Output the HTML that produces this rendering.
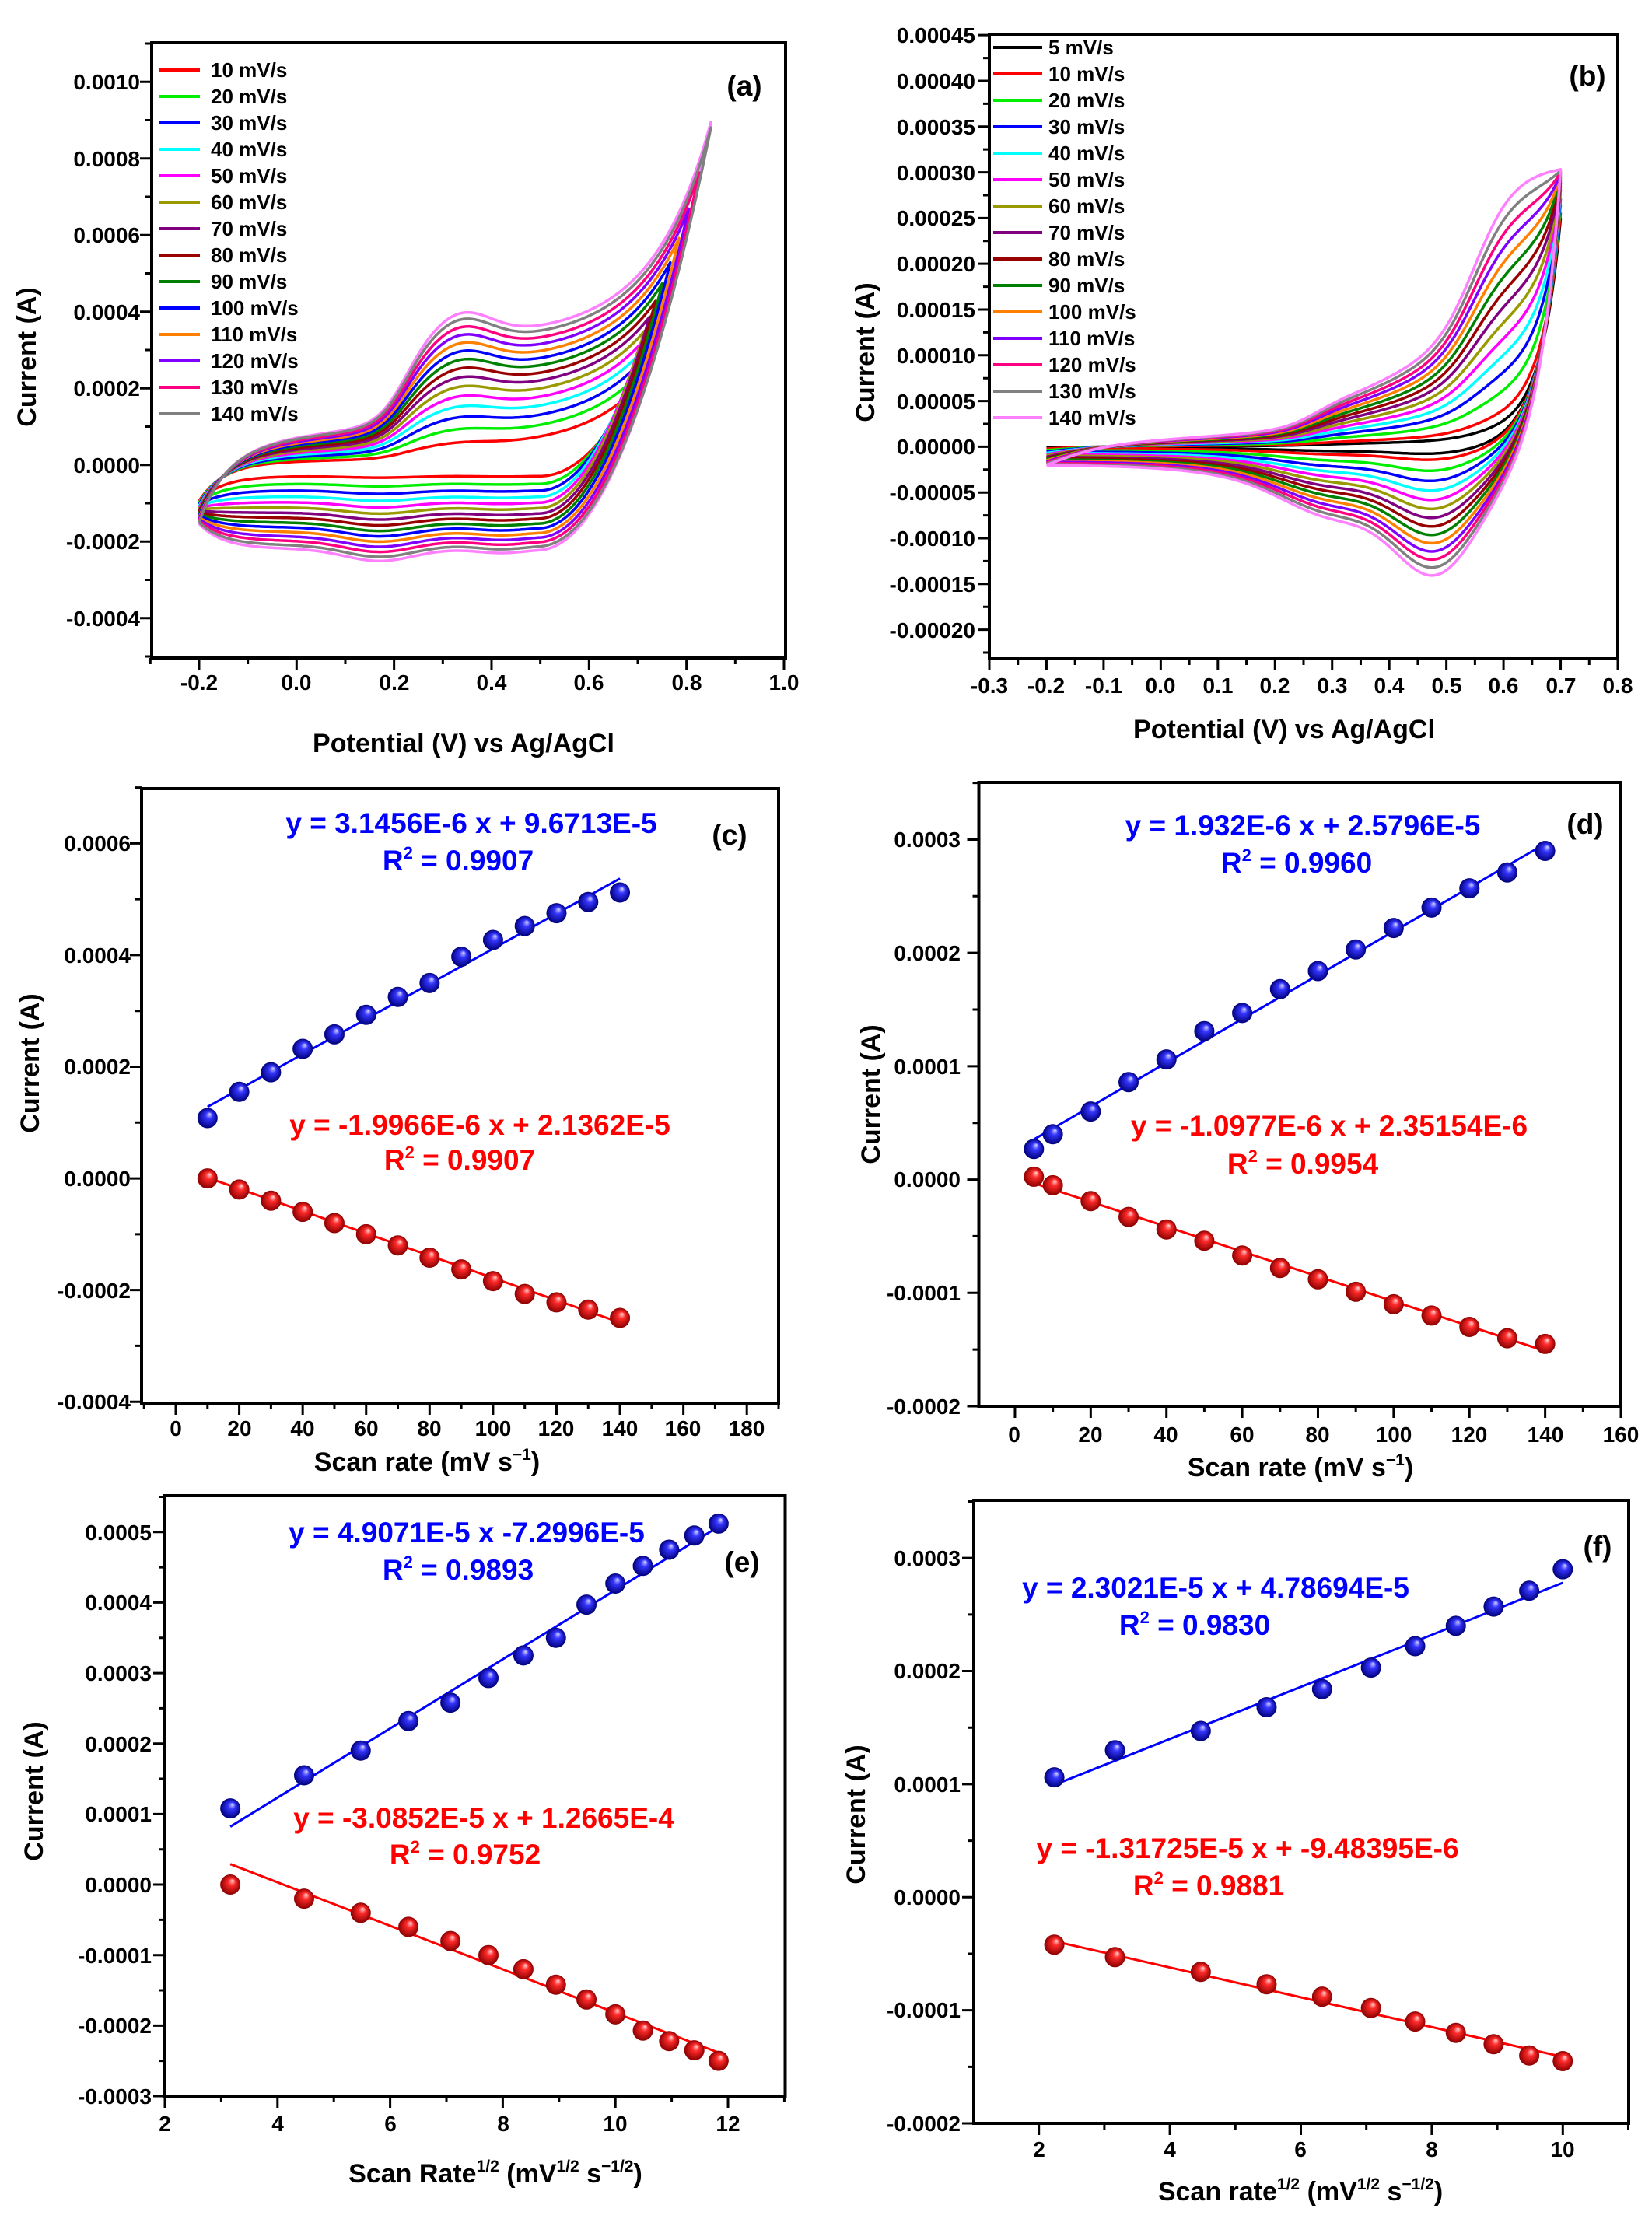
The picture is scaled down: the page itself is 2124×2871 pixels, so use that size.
<!DOCTYPE html>
<html><head><meta charset="utf-8"><style>
body{margin:0;background:#fff;}
svg{display:block;}
text{font-family:"Liberation Sans",Arial,sans-serif;font-weight:bold;}
.tk{font-size:28px;fill:#000;}
.tt{font-size:34px;fill:#000;}
.lg{font-size:26px;fill:#000;}
.eqb{font-size:37px;fill:#0000ff;}
.eqr{font-size:37px;fill:#ff0000;}
.pl{font-size:37px;fill:#000;}
</style></head><body>
<svg id="s" xmlns="http://www.w3.org/2000/svg" width="2124" height="2871" viewBox="0 0 2124 2871">
<defs>
<radialGradient id="gb" cx="0.5" cy="0.5" r="0.5" fx="0.62" fy="0.3"><stop offset="0" stop-color="#d8d8ff"/><stop offset="0.35" stop-color="#3535ff"/><stop offset="1" stop-color="#00007a"/></radialGradient>
<radialGradient id="gr" cx="0.5" cy="0.5" r="0.5" fx="0.62" fy="0.3"><stop offset="0" stop-color="#ffd8d8"/><stop offset="0.35" stop-color="#ff2a2a"/><stop offset="1" stop-color="#8a0000"/></radialGradient>
</defs>
<rect width="2124" height="2871" fill="#fff"/>
<g id="plot"></g>

<!-- Panel a text -->
<g class="tk" text-anchor="middle">
<text x="256" y="887">-0.2</text><text x="381" y="887">0.0</text><text x="507" y="887">0.2</text><text x="632" y="887">0.4</text><text x="757" y="887">0.6</text><text x="883" y="887">0.8</text><text x="1008" y="887">1.0</text>
</g>
<g class="tk" text-anchor="end">
<text x="180" y="115">0.0010</text><text x="180" y="214">0.0008</text><text x="180" y="312">0.0006</text><text x="180" y="411">0.0004</text><text x="180" y="509">0.0002</text><text x="180" y="608">0.0000</text><text x="180" y="706">-0.0002</text><text x="180" y="805">-0.0004</text>
</g>
<text class="tt" text-anchor="middle" transform="translate(46,459) rotate(-90)">Current (A)</text>
<text class="tt" text-anchor="middle" x="596" y="967">Potential (V) vs Ag/AgCl</text>
<text class="pl" x="957" y="123" text-anchor="middle">(a)</text>
<g class="lg">
<text x="271" y="99">10 mV/s</text><text x="271" y="133">20 mV/s</text><text x="271" y="167">30 mV/s</text><text x="271" y="201">40 mV/s</text><text x="271" y="235">50 mV/s</text><text x="271" y="269">60 mV/s</text><text x="271" y="303">70 mV/s</text><text x="271" y="337">80 mV/s</text><text x="271" y="371">90 mV/s</text><text x="271" y="405">100 mV/s</text><text x="271" y="439">110 mV/s</text><text x="271" y="473">120 mV/s</text><text x="271" y="507">130 mV/s</text><text x="271" y="541">140 mV/s</text>
</g>

<!-- Panel b text -->
<g class="tk" text-anchor="middle">
<text x="1272" y="891">-0.3</text><text x="1345" y="891">-0.2</text><text x="1419" y="891">-0.1</text><text x="1492" y="891">0.0</text><text x="1566" y="891">0.1</text><text x="1639" y="891">0.2</text><text x="1713" y="891">0.3</text><text x="1786" y="891">0.4</text><text x="1860" y="891">0.5</text><text x="1933" y="891">0.6</text><text x="2007" y="891">0.7</text><text x="2080" y="891">0.8</text>
</g>
<g class="tk" text-anchor="end">
<text x="1254" y="55">0.00045</text><text x="1254" y="114">0.00040</text><text x="1254" y="173">0.00035</text><text x="1254" y="232">0.00030</text><text x="1254" y="290">0.00025</text><text x="1254" y="349">0.00020</text><text x="1254" y="408">0.00015</text><text x="1254" y="467">0.00010</text><text x="1254" y="526">0.00005</text><text x="1254" y="584">0.00000</text><text x="1254" y="643">-0.00005</text><text x="1254" y="702">-0.00010</text><text x="1254" y="761">-0.00015</text><text x="1254" y="820">-0.00020</text>
</g>
<text class="tt" text-anchor="middle" transform="translate(1124,453) rotate(-90)">Current (A)</text>
<text class="tt" text-anchor="middle" x="1651" y="949">Potential (V) vs Ag/AgCl</text>
<text class="pl" x="2041" y="110" text-anchor="middle">(b)</text>
<g class="lg">
<text x="1348" y="70">5 mV/s</text><text x="1348" y="104">10 mV/s</text><text x="1348" y="138">20 mV/s</text><text x="1348" y="172">30 mV/s</text><text x="1348" y="206">40 mV/s</text><text x="1348" y="240">50 mV/s</text><text x="1348" y="274">60 mV/s</text><text x="1348" y="308">70 mV/s</text><text x="1348" y="342">80 mV/s</text><text x="1348" y="376">90 mV/s</text><text x="1348" y="410">100 mV/s</text><text x="1348" y="444">110 mV/s</text><text x="1348" y="478">120 mV/s</text><text x="1348" y="512">130 mV/s</text><text x="1348" y="546">140 mV/s</text>
</g>

<!-- Panel c text -->
<g class="tk" text-anchor="middle">
<text x="226" y="1846">0</text><text x="308" y="1846">20</text><text x="389" y="1846">40</text><text x="471" y="1846">60</text><text x="552" y="1846">80</text><text x="634" y="1846">100</text><text x="715" y="1846">120</text><text x="797" y="1846">140</text><text x="878" y="1846">160</text><text x="960" y="1846">180</text>
</g>
<g class="tk" text-anchor="end">
<text x="168" y="1094">0.0006</text><text x="168" y="1238">0.0004</text><text x="168" y="1381">0.0002</text><text x="168" y="1525">0.0000</text><text x="168" y="1669">-0.0002</text><text x="168" y="1812">-0.0004</text>
</g>
<text class="tt" text-anchor="middle" transform="translate(50,1367) rotate(-90)">Current (A)</text>
<text class="tt" text-anchor="middle" x="549" y="1891">Scan rate (mV s<tspan font-size="21" dy="-14">−1</tspan><tspan dy="14">)</tspan></text>
<text class="pl" x="938" y="1086" text-anchor="middle">(c)</text>
<text class="eqb" x="606" y="1071" text-anchor="middle">y = 3.1456E-6 x + 9.6713E-5</text>
<text class="eqb" x="589" y="1119" text-anchor="middle">R<tspan font-size="22" dy="-15">2</tspan><tspan dy="15"> = 0.9907</tspan></text>
<text class="eqr" x="617" y="1459" text-anchor="middle">y = -1.9966E-6 x + 2.1362E-5</text>
<text class="eqr" x="591" y="1504" text-anchor="middle">R<tspan font-size="22" dy="-15">2</tspan><tspan dy="15"> = 0.9907</tspan></text>

<!-- Panel d text -->
<g class="tk" text-anchor="middle">
<text x="1304" y="1854">0</text><text x="1402" y="1854">20</text><text x="1499" y="1854">40</text><text x="1597" y="1854">60</text><text x="1694" y="1854">80</text><text x="1792" y="1854">100</text><text x="1889" y="1854">120</text><text x="1987" y="1854">140</text><text x="2084" y="1854">160</text>
</g>
<g class="tk" text-anchor="end">
<text x="1235" y="1089">0.0003</text><text x="1235" y="1235">0.0002</text><text x="1235" y="1381">0.0001</text><text x="1235" y="1526">0.0000</text><text x="1235" y="1672">-0.0001</text><text x="1235" y="1818">-0.0002</text>
</g>
<text class="tt" text-anchor="middle" transform="translate(1131,1407) rotate(-90)">Current (A)</text>
<text class="tt" text-anchor="middle" x="1672" y="1898">Scan rate (mV s<tspan font-size="21" dy="-14">−1</tspan><tspan dy="14">)</tspan></text>
<text class="pl" x="2038" y="1072" text-anchor="middle">(d)</text>
<text class="eqb" x="1675" y="1074" text-anchor="middle">y = 1.932E-6 x + 2.5796E-5</text>
<text class="eqb" x="1667" y="1122" text-anchor="middle">R<tspan font-size="22" dy="-15">2</tspan><tspan dy="15"> = 0.9960</tspan></text>
<text class="eqr" x="1709" y="1460" text-anchor="middle">y = -1.0977E-6 x + 2.35154E-6</text>
<text class="eqr" x="1675" y="1509" text-anchor="middle">R<tspan font-size="22" dy="-15">2</tspan><tspan dy="15"> = 0.9954</tspan></text>

<!-- Panel e text -->
<g class="tk" text-anchor="middle">
<text x="212" y="2740">2</text><text x="357" y="2740">4</text><text x="502" y="2740">6</text><text x="647" y="2740">8</text><text x="791" y="2740">10</text><text x="936" y="2740">12</text>
</g>
<g class="tk" text-anchor="end">
<text x="195" y="1980">0.0005</text><text x="195" y="2070">0.0004</text><text x="195" y="2161">0.0003</text><text x="195" y="2252">0.0002</text><text x="195" y="2342">0.0001</text><text x="195" y="2433">0.0000</text><text x="195" y="2524">-0.0001</text><text x="195" y="2614">-0.0002</text><text x="195" y="2705">-0.0003</text>
</g>
<text class="tt" text-anchor="middle" transform="translate(55,2303) rotate(-90)">Current (A)</text>
<text class="tt" text-anchor="middle" x="637" y="2806">Scan Rate<tspan font-size="21" dy="-14">1/2</tspan><tspan dy="14"> (mV</tspan><tspan font-size="21" dy="-14">1/2</tspan><tspan dy="14"> s</tspan><tspan font-size="21" dy="-14">−1/2</tspan><tspan dy="14">)</tspan></text>
<text class="pl" x="954" y="2021" text-anchor="middle">(e)</text>
<text class="eqb" x="600" y="1983" text-anchor="middle">y = 4.9071E-5 x -7.2996E-5</text>
<text class="eqb" x="589" y="2031" text-anchor="middle">R<tspan font-size="22" dy="-15">2</tspan><tspan dy="15"> = 0.9893</tspan></text>
<text class="eqr" x="622" y="2350" text-anchor="middle">y = -3.0852E-5 x + 1.2665E-4</text>
<text class="eqr" x="598" y="2397" text-anchor="middle">R<tspan font-size="22" dy="-15">2</tspan><tspan dy="15"> = 0.9752</tspan></text>

<!-- Panel f text -->
<g class="tk" text-anchor="middle">
<text x="1336" y="2773">2</text><text x="1504" y="2773">4</text><text x="1672" y="2773">6</text><text x="1841" y="2773">8</text><text x="2009" y="2773">10</text>
</g>
<g class="tk" text-anchor="end">
<text x="1235" y="2013">0.0003</text><text x="1235" y="2158">0.0002</text><text x="1235" y="2304">0.0001</text><text x="1235" y="2449">0.0000</text><text x="1235" y="2594">-0.0001</text><text x="1235" y="2740">-0.0002</text>
</g>
<text class="tt" text-anchor="middle" transform="translate(1112,2333) rotate(-90)">Current (A)</text>
<text class="tt" text-anchor="middle" x="1672" y="2829">Scan rate<tspan font-size="21" dy="-14">1/2</tspan><tspan dy="14"> (mV</tspan><tspan font-size="21" dy="-14">1/2</tspan><tspan dy="14"> s</tspan><tspan font-size="21" dy="-14">−1/2</tspan><tspan dy="14">)</tspan></text>
<text class="pl" x="2054" y="2001" text-anchor="middle">(f)</text>
<text class="eqb" x="1563" y="2054" text-anchor="middle">y = 2.3021E-5 x + 4.78694E-5</text>
<text class="eqb" x="1536" y="2102" text-anchor="middle">R<tspan font-size="22" dy="-15">2</tspan><tspan dy="15"> = 0.9830</tspan></text>
<text class="eqr" x="1604" y="2389" text-anchor="middle">y = -1.31725E-5 x + -9.48395E-6</text>
<text class="eqr" x="1554" y="2437" text-anchor="middle">R<tspan font-size="22" dy="-15">2</tspan><tspan dy="15"> = 0.9881</tspan></text>
</svg>
<script>
(function(){
var NS='http://www.w3.org/2000/svg';var root=document.getElementById('plot');
function el(t,a){var e=document.createElementNS(NS,t);for(var k in a)e.setAttribute(k,a[k]);root.appendChild(e);return e;}
function mk(p){p.X=function(x){return p.L+(x-p.x0)/(p.x1-p.x0)*(p.R-p.L)};p.Y=function(y){return p.B-(y-p.y0)/(p.y1-p.y0)*(p.B-p.T)};return p;}
function rng(a,st,n){var r=[];for(var i=0;i<n;i++)r.push(a+st*i);return r;}
function frame(p,xM,xm,yM,ym){
 var d='';
 xM.forEach(function(x){var X=p.X(x);d+='M'+X+' '+p.B+'V'+(p.B+15);});
 xm.forEach(function(x){var X=p.X(x);d+='M'+X+' '+p.B+'V'+(p.B+8);});
 yM.forEach(function(y){var Y=p.Y(y);d+='M'+p.L+' '+Y+'H'+(p.L-15);});
 ym.forEach(function(y){var Y=p.Y(y);d+='M'+p.L+' '+Y+'H'+(p.L-8);});
 el('path',{d:d,stroke:'#000','stroke-width':3,fill:'none'});
 el('rect',{x:p.L,y:p.T,width:p.R-p.L,height:p.B-p.T,fill:'none',stroke:'#000','stroke-width':4});
}
function poly(p,pts,c,w){var d='';pts.forEach(function(q,i){d+=(i?'L':'M')+p.X(q[0]).toFixed(1)+' '+p.Y(q[1]).toFixed(1);});el('path',{d:d,stroke:c,'stroke-width':w,fill:'none','stroke-linejoin':'round'});}
function G(x,m,w){return Math.exp(-0.5*Math.pow((x-m)/w,2));}
function sig(z){return 1/(1+Math.exp(-z));}

var A=mk({L:195,R:1010,T:55,B:846,x0:-0.2973,x1:1.0032,y0:-0.000504,y1:0.001102});
var B=mk({L:1272,R:2080,T:44,B:847,x0:-0.3,x1:0.8,y0:-0.0002318,y1:0.000451});
var C=mk({L:182,R:1001,T:1014,B:1804,x0:-10.79,x1:190,y0:-0.0004025,y1:0.000698});
var D=mk({L:1258.5,R:2084,T:1006,B:1808,x0:-9.54,x1:160,y0:-0.0002,y1:0.0003504});
var E=mk({L:212,R:1009.5,T:1923,B:2695,x0:2,x1:13.015,y0:-0.0003,y1:0.0005516});
var F=mk({L:1252,R:2094,T:1929,B:2730,x0:1.006,x1:11.006,y0:-0.0002,y1:0.000351});

var colA=['#ff0000','#00ee00','#0000ff','#00ffff','#ff00ff','#999900','#800080','#990000','#008000','#0000ff','#ff8000','#8000ff','#ff0080','#808080'];
function cvA(k,c,extra){
 var s=k*10/140*extra,sp=Math.pow(s,0.75),xv=0.69+0.16*Math.pow((k-1)/13,2);
 var st=-0.00009-0.00006*s;
 function body(x){return 0.00003+0.00007*Math.tanh((x+0.2)/0.3)+0.00022*sig((x-0.22)/0.03)+0.00006*G(x,0.34,0.06);}
 function up(x){var b=Math.exp(-(x+0.2)/0.05);return b*st+(1-b)*(sp*body(x))+0.00002*Math.exp((x-0.45)/0.12);}
 function lo(x){var b=Math.exp(-(x+0.2)/0.05);var L=-sp*(0.00021+0.00003*G(x,0.17,0.07)+0.00001*G(x,0.42,0.05));return (1-b)*L+b*st;}
 var pts=[],x;
 for(x=-0.2;x<=xv+1e-9;x+=0.005)pts.push([x,up(x)]);
 var iv=up(xv),lv=lo(xv);
 for(x=xv;x>=-0.2;x-=0.005){var t=Math.max(0,(x-0.5)/(xv-0.5));pts.push([x,lo(x)+(iv-lv)*t*t]);}
 pts.push(pts[0]);
 poly(A,pts,c,3.5);
}
cvA(14,'#ff80ff',1.06);
for(var k=1;k<=14;k++)cvA(k,colA[k-1],1);
frame(A,rng(-0.2,0.2,7),rng(-0.3,0.2,7),rng(-0.0004,0.0002,8),rng(-0.0005,0.0002,9));
for(var i=0;i<14;i++){el('line',{x1:205,x2:257,y1:90+34*i,y2:90+34*i,stroke:colA[i],'stroke-width':4});}

var ratesB=[5,10,20,30,40,50,60,70,80,90,100,110,120,130,140];
var colB=['#000000','#ff0000','#00ee00','#0000ff','#00ffff','#ff00ff','#999900','#800080','#990000','#008000','#ff8000','#8000ff','#ff0080','#808080','#ff80ff'];
ratesB.forEach(function(r,i){
 var s=r/140,sp=Math.pow(s,0.85);
 function up(x){return sp*(-0.00002+0.00002*Math.tanh((x+0.2)/0.1)+0.00002*(x+0.2)/0.5+0.00003*sig((x-0.27)/0.03)+0.0002*sig((x-0.55)/0.035)+0.00004*sig((x-0.4)/0.05))+(1-s)*0.00024*Math.exp((x-0.7)/0.035);}
 function lo(x){return -sp*(0.00002+0.00003*sig((x-0.15)/0.08)+0.00009*G(x,0.48,0.07)+0.00003*G(x,0.3,0.08));}
 var pts=[],x,xv=0.7;
 for(x=-0.2;x<=xv+1e-9;x+=0.005)pts.push([x,up(x)]);
 var iv=up(xv),lv=lo(xv);
 for(x=xv;x>=-0.2;x-=0.005)pts.push([x,lo(x)+(iv-lv)*Math.exp((x-0.7)/0.04)]);
 pts.push(pts[0]);
 poly(B,pts,colB[i],3.5);
});
frame(B,rng(-0.3,0.1,12),rng(-0.25,0.1,11),rng(-0.0002,0.00005,14),rng(-0.000225,0.00005,14));
for(var i=0;i<15;i++){el('line',{x1:1277,x2:1340,y1:61+34*i,y2:61+34*i,stroke:colB[i],'stroke-width':4});}

function scat(p,xs,ys,g){xs.forEach(function(x,i){el('circle',{cx:p.X(x),cy:p.Y(ys[i]),r:13,fill:'url(#'+g+')'});});}
function fit(p,m,b,xa,xb,c){el('line',{x1:p.X(xa),y1:p.Y(m*xa+b),x2:p.X(xb),y2:p.Y(m*xb+b),stroke:c,'stroke-width':3});}

var rC=[10,20,30,40,50,60,70,80,90,100,110,120,130,140];
var bC=[0.000108,0.000155,0.00019,0.000232,0.000258,0.000293,0.000325,0.00035,0.000397,0.000427,0.000452,0.000475,0.000495,0.000512];
var redC=[0,-0.00002,-0.00004,-0.00006,-0.00008,-0.0001,-0.00012,-0.000142,-0.000163,-0.000184,-0.000207,-0.000222,-0.000235,-0.00025];
frame(C,rng(0,20,10),rng(-10,20,11),rng(-0.0004,0.0002,6),rng(-0.0003,0.0002,6));
fit(C,3.1456e-6,9.6713e-5,10,140,'#0000ff');fit(C,-1.9966e-6,2.1362e-5,10,140,'#ff0000');
scat(C,rC,bC,'gb');scat(C,rC,redC,'gr');

var rD=[5,10,20,30,40,50,60,70,80,90,100,110,120,130,140];
var bD=[0.000027,0.00004,0.00006,0.000086,0.000106,0.000131,0.000147,0.000168,0.000184,0.000203,0.000222,0.00024,0.000257,0.000271,0.00029];
var redD=[0.0000025,-0.000005,-0.000019,-0.000033,-0.000044,-0.000054,-0.000067,-0.000078,-0.000088,-0.000099,-0.00011,-0.00012,-0.00013,-0.00014,-0.000145];
frame(D,rng(0,20,9),rng(10,20,8),rng(-0.0002,0.0001,6),rng(-0.00015,0.0001,6));
fit(D,1.932e-6,2.5796e-5,5,140,'#0000ff');fit(D,-1.0977e-6,2.35154e-6,5,140,'#ff0000');
scat(D,rD,bD,'gb');scat(D,rD,redD,'gr');

var xE=rC.map(Math.sqrt);
frame(E,rng(2,2,6),rng(3,2,6),rng(-0.0003,0.0001,9),rng(-0.00025,0.0001,9));
fit(E,4.9071e-5,-7.2996e-5,xE[0],xE[13],'#0000ff');fit(E,-3.0852e-5,1.2665e-4,xE[0],xE[13],'#ff0000');
scat(E,xE,bC,'gb');scat(E,xE,redC,'gr');

var xF=[5,10,20,30,40,50,60,70,80,90,100].map(Math.sqrt);
var bF=[0.000106,0.00013,0.000147,0.000168,0.000184,0.000203,0.000222,0.00024,0.000257,0.000271,0.00029];
var redF=[-0.000042,-0.000053,-0.000066,-0.000077,-0.000088,-0.000098,-0.00011,-0.00012,-0.00013,-0.00014,-0.000145];
frame(F,rng(2,2,5),rng(3,2,5),rng(-0.0002,0.0001,6),rng(-0.00015,0.0001,6));
fit(F,2.3021e-5,4.78694e-5,xF[0],10,'#0000ff');fit(F,-1.31725e-5,-9.48395e-6,xF[0],10,'#ff0000');
scat(F,xF,bF,'gb');scat(F,xF,redF,'gr');
})();
</script>
</body></html>
